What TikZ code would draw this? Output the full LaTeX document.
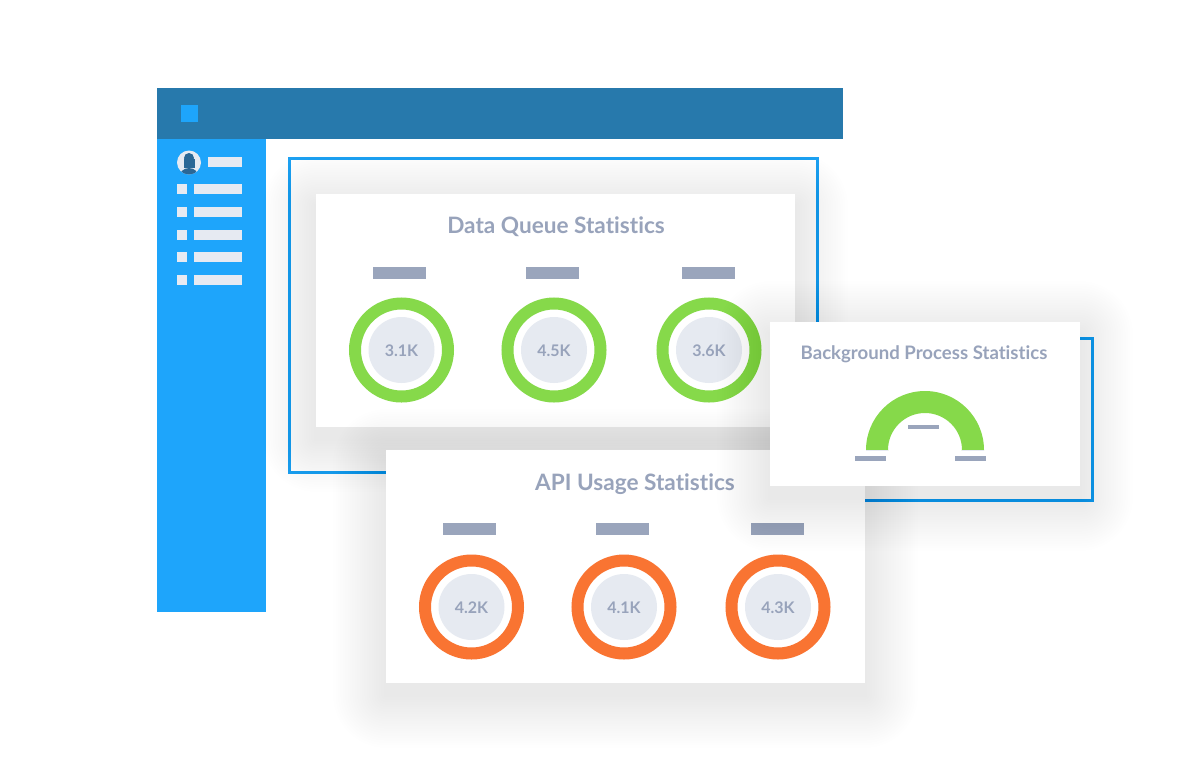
\documentclass[tikz,border=0pt]{standalone}
\usepackage{fontspec}
\setmainfont{Lato}[Ligatures=NoCommon]
\definecolor{topbar}{HTML}{2779AC}
\definecolor{sidebar}{HTML}{1EA5FB}
\definecolor{accent}{HTML}{1DA1F2}
\definecolor{lightitem}{HTML}{E6EAF2}
\definecolor{graybar}{HTML}{9AA5BC}
\definecolor{txt}{HTML}{98A3BB}
\definecolor{ringgreen}{HTML}{86D94A}
\definecolor{ringorange}{HTML}{F97432}
\definecolor{disk}{HTML}{E6EAF1}
\definecolor{avatar}{HTML}{2A6796}
\newcommand\cardshadow[4]{%
  \foreach \k in {1,...,22}{%
    \fill[black,opacity=0.0042,rounded corners={2.4pt*\k}]
      ({#1-2.4*\k},{#2-2.4*\k+12}) rectangle ({#3+2.4*\k},{#4+2.4*\k+12});}}
\tikzset{
  card/.style={fill=white},
  outline/.style={draw=accent,line width=3pt},
  title/.style={text=txt,font=\bfseries\fontsize{22.6}{26}\selectfont,inner sep=0pt},
  smalltitle/.style={text=txt,font=\bfseries\fontsize{18.6}{22}\selectfont,inner sep=0pt},
  value/.style={text=txt,font=\bfseries\fontsize{16}{19}\selectfont,inner sep=0pt},
  item/.style={fill=lightitem},
  gbar/.style={fill=graybar},
}
\begin{document}
\begin{tikzpicture}[x=1pt,y=-1pt]
\useasboundingbox (0,0) rectangle (1200,764);
\fill[white] (0,0) rectangle (1200,764);
% window
\fill[topbar] (157,88) rectangle (843,139);
\fill[sidebar] (157,139) rectangle (266,612);
\fill[sidebar] (181,105) rectangle (198,122);
% avatar
\fill[lightitem] (189,162.5) circle[radius=12];
\begin{scope}
  \clip (189,162.5) circle[radius=12];
  \fill[avatar] (189,158) circle[radius=5];
  \fill[avatar] (183.5,159) rectangle (194.5,168);
  \fill[avatar] (189,178) circle[radius=10];
\end{scope}
\fill[item] (208,157) rectangle (242,167);
\foreach \yy in {189,212,234.5,257,280}{
  \fill[item] (177,\yy-5) rectangle (187,\yy+5);
  \fill[item] (194,\yy-5) rectangle (242,\yy+5);
}
% outline 1
\draw[outline] (289.5,158.5) rectangle (817.5,472.5);
% Data queue card
\cardshadow{316}{194}{795}{427}
\fill[card] (316,194) rectangle (795,427);
\node[title] (dqtitle) at (556,227) {Data Queue Statistics};
\foreach \cx/\bx/\v/\n in {401.5/399.5/3.1K/a,554/552.5/4.5K/b,709/708.5/3.6K/c}{
  \fill[gbar] (\bx-26.5,267) rectangle (\bx+26.5,279);
  \draw[ringgreen,line width=12pt] (\cx,350) circle[radius=46.5];
  \fill[disk] (\cx,350) circle[radius=33];
  \node[value] (dq\n) at (\cx,351) {\v};
}
% outline 2
\draw[outline] (780,338.5) rectangle (1092.5,500.5);
% API card
\cardshadow{386}{450}{865}{683}
\fill[card] (386,450) rectangle (865,683);
\node[title] (apititle) at (635,484) {API Usage Statistics};
\foreach \cx/\bx/\v/\n in {471.5/469/4.2K/a,624/622/4.1K/b,778/777.5/4.3K/c}{
  \fill[gbar] (\bx-26.5,523) rectangle (\bx+26.5,535);
  \draw[ringorange,line width=12pt] (\cx,607) circle[radius=46.5];
  \fill[disk] (\cx,607) circle[radius=33];
  \node[value] (api\n) at (\cx,608) {\v};
}
% Background process card
\cardshadow{770}{322}{1080}{486}
\fill[card] (770,322) rectangle (1080,486);
\node[smalltitle] (bgtitle) at (924,354) {Background Process Statistics};
\begin{scope}
  \clip (850,380) rectangle (1000,450);
  \fill[ringgreen,even odd rule] (925,450) circle[radius=59] (925,450) circle[radius=37];
\end{scope}
\fill[disk] (866,449.5) rectangle (888,451);
\fill[disk] (962,449.5) rectangle (984,451);
\fill[gbar] (855,456) rectangle (886,461);
\fill[gbar] (955,456) rectangle (986,461);
\fill[gbar] (908,425) rectangle (939,429);
\end{tikzpicture}
\end{document}
